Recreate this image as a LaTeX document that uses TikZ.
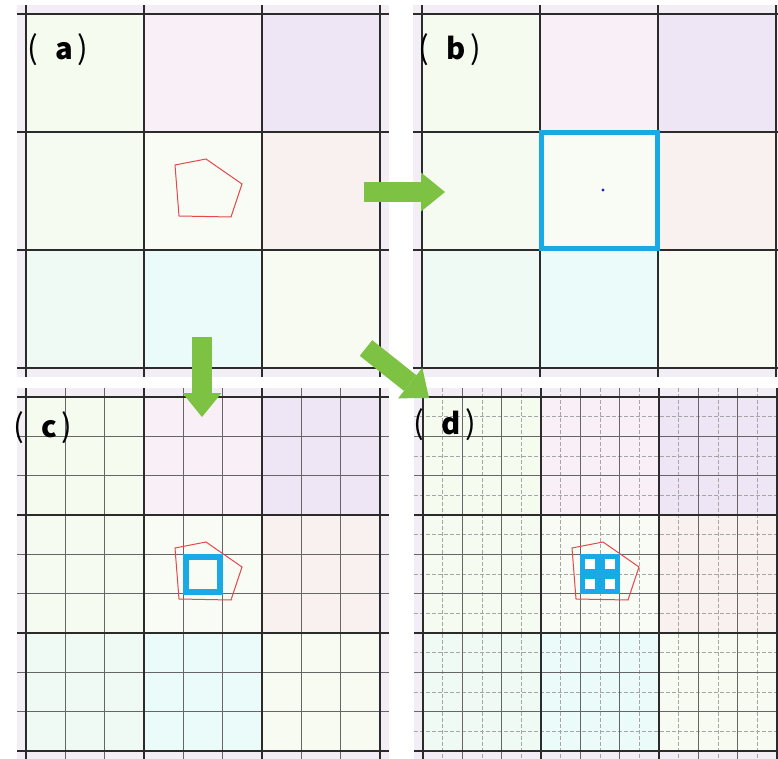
\documentclass[tikz,border=0pt]{standalone}
\usepackage{fontspec}
\newfontfamily\cjk{Noto Sans CJK SC}
\usepackage{tikz}
\usetikzlibrary{arrows.meta}

\definecolor{panelbg}{HTML}{F3EEF6}
\definecolor{cell00}{HTML}{F5FBEF}
\definecolor{cell01}{HTML}{F8F0F6}
\definecolor{cell02}{HTML}{EEE6F5}
\definecolor{cell10}{HTML}{F6FBF1}
\definecolor{cell11}{HTML}{F8FCF5}
\definecolor{cell12}{HTML}{F9F0F0}
\definecolor{cell20}{HTML}{EEFAF3}
\definecolor{cell21}{HTML}{EAFBF9}
\definecolor{cell22}{HTML}{F7FBF2}
\definecolor{gridline}{HTML}{2B2B2B}
\definecolor{hitblue}{HTML}{19A9E5}
\definecolor{shapered}{HTML}{E5484A}
\definecolor{arrowgreen}{HTML}{7DC242}
\definecolor{centreblue}{HTML}{2222A8}

% one 3x3 board, local pixel units
\newcommand{\drawboard}{%
  \fill[panelbg] (-9,-9) rectangle (363,363);
  \foreach \r in {0,1,2} {
    \foreach \k in {0,1,2} {
      \fill[fill=cell\r\k] (\k*118,\r*118) rectangle ++(118,118);
    }
  }
}
\newcommand{\drawmajor}{%
  \foreach \t in {0,118,236,354} {
    \draw[major] (\t,-9) -- (\t,363);
    \draw[major] (-9,\t) -- (363,\t);
  }
}
\newcommand{\drawshape}{%
  \draw[outline] (149,151) -- (180,145) -- (216,170) -- (205,203) -- (153,202) -- cycle;
}
\newcommand{\tagtext}[1]{{\fontsize{27pt}{27pt}\selectfont(}\hspace{0.6em}{\bfseries#1}\hspace{0.15em}{\fontsize{27pt}{27pt}\selectfont)}}

\begin{document}
\begin{tikzpicture}[
  x=0.3mm, y=-0.3mm,
  major/.style={draw=gridline, line width=0.75mm},
  minor/.style={draw=gray!80!black, line width=0.35mm},
  fine/.style={draw=gray!70, line width=0.3mm, dash pattern=on 1.2mm off 0.6mm},
  outline/.style={draw=shapered, line width=0.3mm},
  hit/.style={draw=hitblue, line width=1.5mm},
  tag/.style={font=\cjk\fontsize{25pt}{25pt}\selectfont, anchor=west, inner sep=0pt},
  fatarrow/.style={draw=arrowgreen, line width=6mm,
    -{Triangle[length=7.2mm, width=11.7mm, line width=0pt]}}
]
\useasboundingbox (0,0) rectangle (778,759);
\clip (0,0) rectangle (778,759);

% (a) the polygon on the coarse grid
\begin{scope}[shift={(26,14)}]
  \drawboard
  \drawmajor
  \drawshape
\end{scope}

% (b) centre point and its cell
\begin{scope}[shift={(422,14)}]
  \drawboard
  \drawmajor
  \draw[hit] (119,119) rectangle (235,235);
  \fill[centreblue] (181,176) circle (1.6);
\end{scope}

% (c) one level finer
\begin{scope}[shift={(26,397)}]
  \drawboard
  \foreach \t in {1,2,4,5,7,8} {
    \draw[minor] (\t*118/3,-9) -- (\t*118/3,363);
    \draw[minor] (-9,\t*118/3) -- (363,\t*118/3);
  }
  \drawmajor
  \drawshape
  \draw[hit, line width=1.8mm] (160,160) rectangle (194,195);
\end{scope}

% (d) two levels finer
\begin{scope}[shift={(423,397)}]
  \drawboard
  \foreach \t in {1,3,...,17} {
    \draw[fine] (\t*118/6,-9) -- (\t*118/6,363);
    \draw[fine] (-9,\t*118/6) -- (363,\t*118/6);
  }
  \foreach \t in {2,4,8,10,14,16} {
    \draw[minor] (\t*118/6,-9) -- (\t*118/6,363);
    \draw[minor] (-9,\t*118/6) -- (363,\t*118/6);
  }
  \drawmajor
  \drawshape
  \fill[hitblue] (157.3,157.3) rectangle (196.7,196.7);
  \foreach \i in {0,1} {
    \foreach \j in {0,1} {
      \fill[white] (162.3+\i*19.67,162.3+\j*19.67) rectangle ++(9.7,9.7);
    }
  }
\end{scope}

% panel tags
\node[tag] (tagA) at (27,50) {\tagtext{a}};
\node[tag] (tagB) at (418,50) {\tagtext{b}};
\node[tag] (tagC) at (13,428) {\tagtext{c}};
\node[tag] (tagD) at (413,425) {\tagtext{d}};

% green arrows between panels
\coordinate (fromA) at (364,192);
\coordinate (intoB) at (445,192);
\coordinate (downA) at (202,337);
\coordinate (intoC) at (202,417);
\coordinate (diagA) at (366,348);
\coordinate (intoD) at (429,398);
\draw[fatarrow] (fromA) -- (intoB);
\draw[fatarrow] (downA) -- (intoC);
\draw[fatarrow] (diagA) -- (intoD);
\end{tikzpicture}
\end{document}
